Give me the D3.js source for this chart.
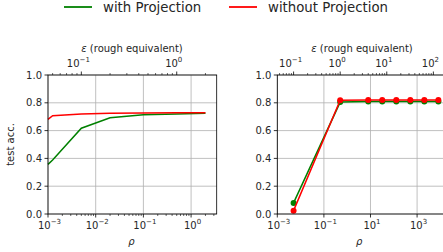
<!DOCTYPE html>
<html>
<head>
<meta charset="utf-8">
<script src="https://cdn.jsdelivr.net/npm/d3@7"></script>
<style>
  body { margin: 0; background: #fff; }
  svg { display: block; font-family: "DejaVu Sans", sans-serif; }
</style>
</head>
<body>
<script>
// left panel data
const leftRho = [0.001, 0.00125, 0.005, 0.02, 0.1, 0.5, 2];
const leftWith = [0.357, 0.388, 0.617, 0.693, 0.714, 0.72, 0.724];
const leftWithout = [0.681, 0.707, 0.72, 0.724, 0.727, 0.728, 0.729];

// right panel data
const rightRho = [0.005, 0.5, 8, 32, 128, 512, 2048, 8192];
const rightWith = [0.08, 0.805, 0.81, 0.81, 0.81, 0.81, 0.81, 0.81];
const rightWithout = [0.024, 0.818, 0.82, 0.82, 0.82, 0.82, 0.82, 0.82];

const yTicks = [0, 0.2, 0.4, 0.6, 0.8, 1.0];
const leftXTicks = [-3, -2, -1, 0];
const rightXTicks = [-3, -1, 1, 3];
const leftEpsTicks = [-1, 0];
const rightEpsTicks = [-1, 0, 1, 2];

const W = 443, H = 252;
const textColor = "#262626";
const gridColor = "#b0b0b0";

// rough conversion used for the top axis
const epsToRho = e => e * e / 2;

const svg = d3.select("body").append("svg")
  .attr("width", W).attr("height", H);

// legend
const legend = [
  {label: "with Projection", color: "green", x: 64},
  {label: "without Projection", color: "red", x: 229}
];
legend.forEach(function(d) {
  svg.append("line")
    .attr("x1", d.x).attr("x2", d.x + 28)
    .attr("y1", 7).attr("y2", 7)
    .attr("stroke", d.color).attr("stroke-width", 1.8);
  svg.append("text")
    .attr("x", d.x + 39).attr("y", 12)
    .attr("font-size", 13.3).attr("fill", textColor)
    .text(d.label);
});

function powLabel(sel, p) {
  sel.append("tspan").text("10");
  sel.append("tspan").attr("font-size", 7).attr("dy", -4.5)
    .text(p < 0 ? "\u2212" + (-p) : p);
}

function panel(opt) {
  const g = svg.append("g");
  const x = d3.scaleLog().domain(opt.xDomain).range([opt.x0, opt.x1]);
  const y = d3.scaleLinear().domain([0, 1]).range([214, 75]);

  // grid
  g.selectAll(".gx").data(opt.xTicks).enter().append("line")
    .attr("x1", d => x(Math.pow(10, d))).attr("x2", d => x(Math.pow(10, d)))
    .attr("y1", 75).attr("y2", 214)
    .attr("stroke", gridColor).attr("stroke-width", 0.8);
  g.selectAll(".gy").data(yTicks).enter().append("line")
    .attr("x1", opt.x0).attr("x2", opt.x1)
    .attr("y1", d => y(d)).attr("y2", d => y(d))
    .attr("stroke", gridColor).attr("stroke-width", 0.8);

  // lines
  const series = [
    {vals: opt.withVals, color: "green"},
    {vals: opt.withoutVals, color: "red"}
  ];
  series.forEach(function(s) {
    const pts = opt.rho.map((r, i) => [r, s.vals[i]]);
    g.append("path")
      .attr("d", d3.line().x(d => x(d[0])).y(d => y(d[1]))(pts))
      .attr("fill", "none").attr("stroke", s.color).attr("stroke-width", 1.5);
    if (opt.markers) {
      g.selectAll(null).data(pts).enter().append("circle")
        .attr("cx", d => x(d[0])).attr("cy", d => y(d[1]))
        .attr("r", 3).attr("fill", s.color);
    }
  });

  // frame
  g.append("rect")
    .attr("x", opt.x0).attr("y", 75)
    .attr("width", opt.x1 - opt.x0).attr("height", 139)
    .attr("fill", "none").attr("stroke", "#000").attr("stroke-width", 0.8);

  // y ticks
  yTicks.forEach(function(t) {
    g.append("line")
      .attr("x1", opt.x0 - 3.5).attr("x2", opt.x0)
      .attr("y1", y(t)).attr("y2", y(t))
      .attr("stroke", "#000").attr("stroke-width", 0.8);
    g.append("text")
      .attr("x", opt.x0 - 6).attr("y", y(t) + 3.5)
      .attr("text-anchor", "end").attr("font-size", 10).attr("fill", textColor)
      .text(t.toFixed(1));
  });

  // bottom ticks
  opt.xTicks.forEach(function(p) {
    const px = x(Math.pow(10, p));
    g.append("line")
      .attr("x1", px).attr("x2", px).attr("y1", 214).attr("y2", 217.5)
      .attr("stroke", "#000").attr("stroke-width", 0.8);
    const t = g.append("text")
      .attr("x", px + 1.5).attr("y", 228.5)
      .attr("text-anchor", "middle").attr("font-size", 10).attr("fill", textColor);
    powLabel(t, p);
  });
  if (opt.bottomMinor) {
    const lo = Math.floor(Math.log10(opt.xDomain[0]));
    const hi = Math.ceil(Math.log10(opt.xDomain[1]));
    for (let p = lo; p < hi; p++) {
      for (let m = 2; m < 10; m++) {
        const v = m * Math.pow(10, p);
        if (v < opt.xDomain[0] || v > opt.xDomain[1]) continue;
        g.append("line")
          .attr("x1", x(v)).attr("x2", x(v)).attr("y1", 214).attr("y2", 216)
          .attr("stroke", "#000").attr("stroke-width", 0.6);
      }
    }
  }
  g.append("text")
    .attr("x", (opt.x0 + Math.min(opt.x1, W)) / 2 - 1).attr("y", 245)
    .attr("text-anchor", "middle").attr("font-size", 10).attr("font-style", "italic")
    .attr("fill", textColor).text("\u03c1");

  // top epsilon axis
  for (let p = -2; p <= 3; p++) {
    for (let m = 1; m < 10; m++) {
      const e = m * Math.pow(10, p);
      const r = epsToRho(e);
      if (r < opt.xDomain[0] || r > opt.xDomain[1]) continue;
      const px = x(r);
      g.append("line")
        .attr("x1", px).attr("x2", px)
        .attr("y1", 75).attr("y2", m === 1 ? 71.5 : 73)
        .attr("stroke", "#000").attr("stroke-width", m === 1 ? 0.8 : 0.6);
    }
  }
  opt.epsTicks.forEach(function(p) {
    const t = g.append("text")
      .attr("x", x(epsToRho(Math.pow(10, p))) - 3).attr("y", 66.5)
      .attr("text-anchor", "middle").attr("font-size", 10).attr("fill", textColor);
    powLabel(t, p);
  });
  const lab = g.append("text")
    .attr("x", opt.epsLabelX).attr("y", 52)
    .attr("text-anchor", "middle").attr("font-size", 10).attr("fill", textColor);
  lab.append("tspan").attr("font-style", "italic").text("\u03b5");
  lab.append("tspan").text(" (rough equivalent)");
}

panel({
  x0: 48, x1: 216.7, xDomain: [1e-3, Math.pow(10, 0.537)],
  xTicks: leftXTicks, epsTicks: leftEpsTicks, epsLabelX: 132,
  rho: leftRho, withVals: leftWith, withoutVals: leftWithout,
  markers: false, bottomMinor: true
});

panel({
  x0: 277.3, x1: 445.6, xDomain: [1e-3, Math.pow(10, 4.224)],
  xTicks: rightXTicks, epsTicks: rightEpsTicks, epsLabelX: 362,
  rho: rightRho, withVals: rightWith, withoutVals: rightWithout,
  markers: true, bottomMinor: false
});

// y label
svg.append("text")
  .attr("transform", "translate(14,144.5) rotate(-90)")
  .attr("text-anchor", "middle").attr("font-size", 10).attr("fill", textColor)
  .text("test acc.");
</script>
</body>
</html>
